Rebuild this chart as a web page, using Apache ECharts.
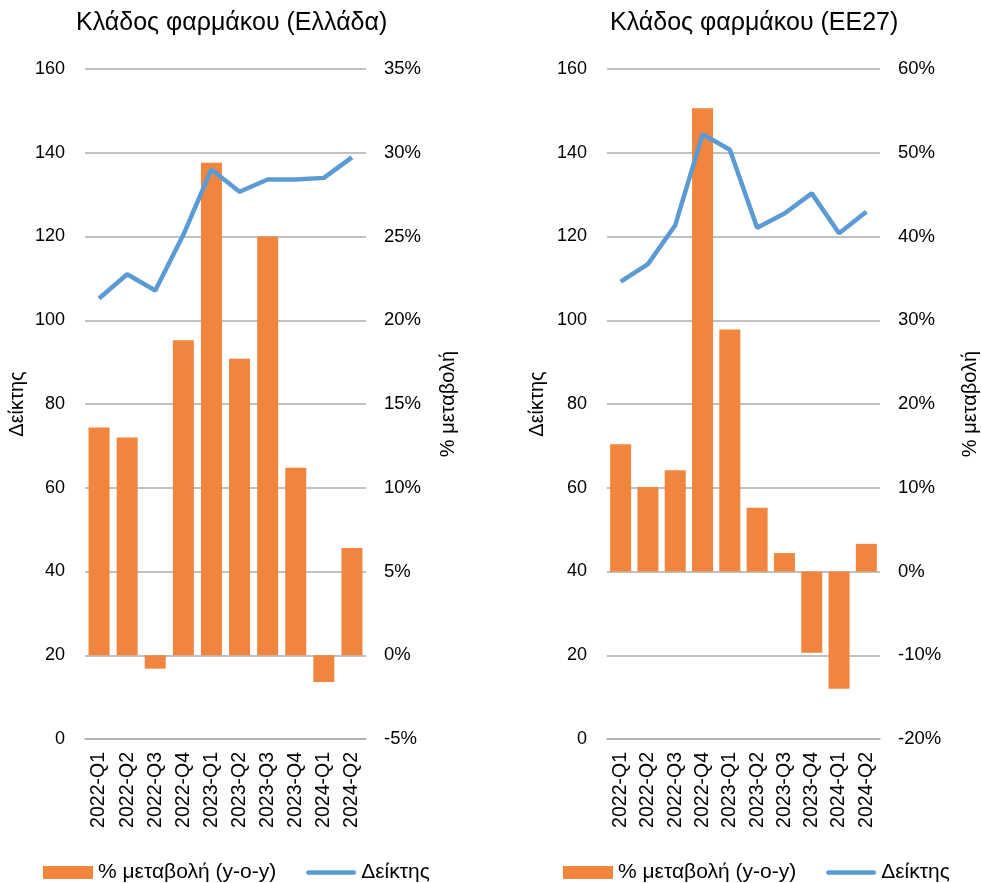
<!DOCTYPE html>
<html>
<head>
<meta charset="utf-8">
<script src="https://cdn.jsdelivr.net/npm/echarts@6/dist/echarts.min.js"></script>
<style>
  html, body { margin: 0; padding: 0; background: #fff; }
  #chart { width: 981px; height: 883px; }
</style>
</head>
<body>
<div id="chart"></div>
<script>
// Quarterly periods
const categories = ['2022-Q1', '2022-Q2', '2022-Q3', '2022-Q4', '2023-Q1', '2023-Q2', '2023-Q3', '2023-Q4', '2024-Q1', '2024-Q2'];

// Pharmaceutical sector, Greece
const elChange = [13.6, 13.0, -0.8, 18.8, 29.4, 17.7, 25.0, 11.2, -1.6, 6.4];   // % y-o-y
const elIndex  = [105.2, 111.0, 107.1, 120.4, 136.0, 130.7, 133.6, 133.6, 134.0, 138.9];

// Pharmaceutical sector, EU27
const euChange = [15.2, 10.1, 12.1, 55.3, 28.9, 7.6, 2.2, -9.7, -14.0, 3.3];    // % y-o-y
const euIndex  = [109.2, 113.4, 122.7, 144.4, 140.7, 122.1, 125.5, 130.3, 120.8, 125.9];

const titles = ['Κλάδος φαρμάκου (Ελλάδα)', 'Κλάδος φαρμάκου (ΕΕ27)'];
const nameChange = '% μεταβολή (y-o-y)';
const nameIndex = 'Δείκτης';
const nameChangeAxis = '% μεταβολή';

const FONT = '"Liberation Sans", Arial, Helvetica, sans-serif';
const ORANGE = '#F2853D';
const BLUE = '#5B9BD5';
const GRID_COLOR = '#ABABAB';
const TXT = '#000';

// thick rounded stroke used as the legend swatch of the index line
const LINE_ICON = 'path://M2.5,0 L50.5,0 A2.5,2.5 0 0 1 50.5,5 L2.5,5 A2.5,2.5 0 0 1 2.5,0 Z';

const chart = echarts.init(document.getElementById('chart'), null, { renderer: 'canvas' });

function leftAxis(gridIndex, nameGap) {
  return {
    type: 'value', gridIndex, min: 0, max: 160, interval: 20,
    name: nameIndex, nameLocation: 'middle', nameGap, nameRotate: 90,
    nameTextStyle: { color: TXT, fontSize: 20, fontFamily: FONT },
    axisLine: { show: false }, axisTick: { show: false },
    axisLabel: { color: TXT, fontSize: 18, fontFamily: FONT, margin: 20 },
    splitLine: { show: true, lineStyle: { color: GRID_COLOR, width: 1.5 } }
  };
}
function rightAxis(gridIndex, min, max, interval, nameGap) {
  return {
    type: 'value', gridIndex, position: 'right', min, max, interval,
    name: nameChangeAxis, nameLocation: 'middle', nameGap, nameRotate: 90,
    nameTextStyle: { color: TXT, fontSize: 20, fontFamily: FONT },
    axisLine: { show: false }, axisTick: { show: false },
    axisLabel: { color: TXT, fontSize: 18.5, fontFamily: FONT, margin: 18, formatter: '{value}%' },
    splitLine: { show: false }
  };
}
function catAxis(gridIndex) {
  return {
    type: 'category', gridIndex, data: categories,
    axisLine: { show: true, onZero: false, lineStyle: { color: GRID_COLOR, width: 1.5 } },
    axisTick: { show: false },
    axisLabel: { color: TXT, fontSize: 19.5, fontFamily: FONT, rotate: 90, margin: 13, interval: 0 }
  };
}
function legendAt(left) {
  return {
    left, top: 857, itemWidth: 50, itemHeight: 13, itemGap: 30,
    textStyle: { color: TXT, fontSize: 21, fontFamily: FONT },
    data: [
      { name: nameChange, icon: 'rect' },
      { name: nameIndex, icon: LINE_ICON, itemStyle: { color: BLUE } }
    ]
  };
}

chart.setOption({
  animation: false,
  backgroundColor: '#fff',
  title: [
    { text: titles[0], left: 71, top: 6, textStyle: { color: TXT, fontSize: 25, fontWeight: 'normal', fontFamily: FONT } },
    { text: titles[1], left: 605, top: 6, textStyle: { color: TXT, fontSize: 25, fontWeight: 'normal', fontFamily: FONT } }
  ],
  legend: [legendAt(38), legendAt(558)],
  grid: [
    { left: 85, top: 69, width: 281, height: 670 },
    { left: 607, top: 69, width: 273, height: 670 }
  ],
  xAxis: [catAxis(0), catAxis(1)],
  yAxis: [
    leftAxis(0, 58),
    rightAxis(0, -5, 35, 5, 72),
    leftAxis(1, 60),
    rightAxis(1, -20, 60, 10, 80)
  ],
  series: [
    { name: nameChange, type: 'bar', xAxisIndex: 0, yAxisIndex: 1, data: elChange, barWidth: 21, itemStyle: { color: ORANGE }, z: 2 },
    { name: nameIndex, type: 'line', xAxisIndex: 0, yAxisIndex: 0, data: elIndex, symbol: 'none', lineStyle: { color: BLUE, width: 4.5 }, itemStyle: { color: BLUE }, z: 3 },
    { name: nameChange, type: 'bar', xAxisIndex: 1, yAxisIndex: 3, data: euChange, barWidth: 21, itemStyle: { color: ORANGE }, z: 2 },
    { name: nameIndex, type: 'line', xAxisIndex: 1, yAxisIndex: 2, data: euIndex, symbol: 'none', lineStyle: { color: BLUE, width: 4.5 }, itemStyle: { color: BLUE }, z: 3 }
  ]
});
</script>
</body>
</html>
